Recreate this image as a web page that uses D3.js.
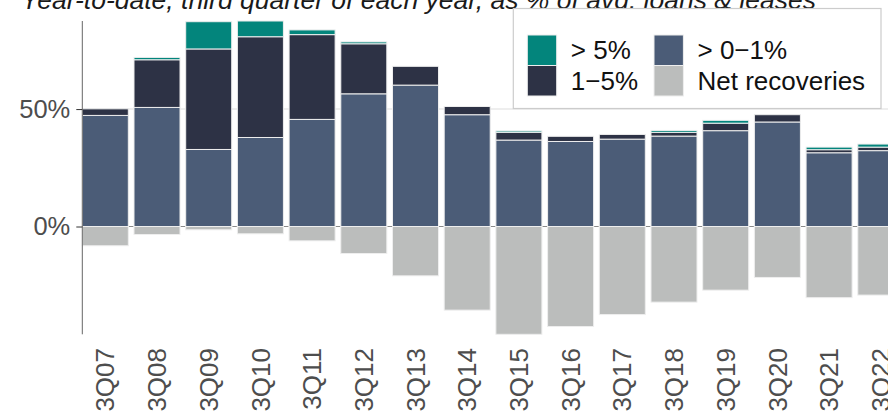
<!DOCTYPE html>
<html>
<head>
<meta charset="utf-8">
<script src="https://cdn.jsdelivr.net/npm/d3@7"></script>
<style>
  html, body { margin: 0; padding: 0; background: #fff; overflow: hidden; }
  svg { display: block; font-family: "Liberation Sans", Arial, sans-serif; }
</style>
</head>
<body>
<svg id="chart" width="888" height="412"></svg>
<script>
const categories = ["3Q07","3Q08","3Q09","3Q10","3Q11","3Q12","3Q13","3Q14","3Q15","3Q16","3Q17","3Q18","3Q19","3Q20","3Q21","3Q22"];
const gt0to1 = [47.3, 50.7, 32.8, 37.9, 45.6, 56.5, 60.2, 47.6, 36.8, 36.2, 37.2, 38.5, 40.8, 44.5, 31.4, 32.3];
const oneTo5 = [2.8, 20.3, 42.8, 42.9, 36.1, 21.3, 8.0, 3.5, 3.3, 2.2, 2.0, 1.6, 3.2, 3.1, 1.3, 1.5];
const gt5 = [0, 1.0, 11.6, 6.7, 2.0, 0.8, 0, 0, 0.6, 0, 0, 0.8, 1.2, 0, 1.1, 1.3];
const netRecoveries = [-8.2, -3.4, -1.4, -3.1, -6.1, -11.5, -21.0, -35.6, -45.9, -42.6, -37.5, -32.2, -27.1, -21.7, -30.3, -29.2];
const yTicks = [0, 50];
const seriesNames = ["> 0\u22121%", "1\u22125%", "> 5%"];
const netName = "Net recoveries";
const colors = {"> 5%": "#03857c", "1\u22125%": "#2d3245", "> 0\u22121%": "#4b5c77", "Net recoveries": "#bbbdbc"};
const title = "Year-to-date, third quarter of each year, as % of avg. loans & leases";

const svg = d3.select("#chart");
const rows = categories.map((c, i) => ({cat: c, "> 0\u22121%": gt0to1[i], "1\u22125%": oneTo5[i], "> 5%": gt5[i], net: netRecoveries[i]}));
const stack = d3.stack().keys(seriesNames)(rows);

const x = d3.scaleBand().domain(categories).range([82.3, 903.8]).paddingInner(0.11).paddingOuter(0);
const yMax = d3.max(stack[stack.length - 1], d => d[1]);
const yMin = d3.min(netRecoveries);
const y = d3.scaleLinear().domain([yMin, yMax]).range([334.3, 21]);

// title
svg.append("text").attr("x", 21).attr("y", 9).attr("font-size", 26.5).attr("font-style", "italic")
  .attr("fill", "#1a1a1a").text(title);

// gridlines
svg.append("g").selectAll("line").data(yTicks).join("line")
  .attr("x1", 82.3).attr("x2", 888).attr("y1", d => y(d)).attr("y2", d => y(d))
  .attr("stroke", d => d === 0 ? "#8a8a8a" : "#dedede").attr("stroke-width", 1.1);

// positive stacks
svg.append("g").selectAll("g").data(stack).join("g")
  .attr("fill", s => colors[s.key])
  .selectAll("rect").data(s => s.filter(d => d[1] - d[0] > 0)).join("rect")
  .attr("x", d => x(d.data.cat)).attr("width", x.bandwidth())
  .attr("y", d => y(d[1])).attr("height", d => y(d[0]) - y(d[1]))
  .attr("stroke", "#eeeeee").attr("stroke-width", 1);

// net recoveries
svg.append("g").selectAll("rect").data(rows).join("rect")
  .attr("fill", colors[netName])
  .attr("x", d => x(d.cat)).attr("width", x.bandwidth())
  .attr("y", y(0)).attr("height", d => y(d.net) - y(0))
  .attr("stroke", "#eeeeee").attr("stroke-width", 1);

// y axis
const yAxis = d3.axisLeft(y).tickValues(yTicks).tickFormat(d => d + "%").tickSize(6).tickPadding(6);
const gy = svg.append("g").attr("transform", "translate(82.3,0)").call(yAxis);
gy.select(".domain").attr("stroke", "#666").attr("d", `M0,${y(yMax)}V${y(yMin)}`);
gy.selectAll(".tick line").attr("stroke", "#333");
gy.selectAll(".tick text").attr("font-size", 25.5).attr("fill", "#4d4d4d").attr("font-family", "Liberation Sans, Arial, sans-serif");

// x axis labels
const xAxis = d3.axisBottom(x).tickSize(0).tickPadding(0);
const gx = svg.append("g").attr("transform", "translate(0,348)").call(xAxis);
gx.select(".domain").remove();
gx.selectAll(".tick text").attr("font-size", 26).attr("fill", "#4d4d4d")
  .attr("font-family", "Liberation Sans, Arial, sans-serif")
  .attr("transform", "rotate(-90)").attr("text-anchor", "end")
  .attr("x", 0).attr("y", 0).attr("dy", "0.35em");

// legend
const lg = svg.append("g");
lg.append("rect").attr("x", 513.3).attr("y", 8.5).attr("width", 367.7).attr("height", 100)
  .attr("fill", "#fff").attr("stroke", "#cccccc").attr("stroke-width", 1.2);
const legendItems = [
  {name: "> 5%", col: 0, row: 0},
  {name: "1\u22125%", col: 0, row: 1},
  {name: "> 0\u22121%", col: 1, row: 0},
  {name: netName, col: 1, row: 1}
];
const colX = [527.3, 654];
const rowY = [35, 65.5];
legendItems.forEach(it => {
  lg.append("rect").attr("x", colX[it.col]).attr("y", rowY[it.row]).attr("width", 29.4).attr("height", 30.5)
    .attr("fill", colors[it.name]).attr("stroke", "#eeeeee").attr("stroke-width", 1);
  lg.append("text").attr("x", colX[it.col] + 43.5).attr("y", rowY[it.row] + 24.3)
    .attr("font-size", 26).attr("fill", "#111").text(it.name);
});
</script>
</body>
</html>
